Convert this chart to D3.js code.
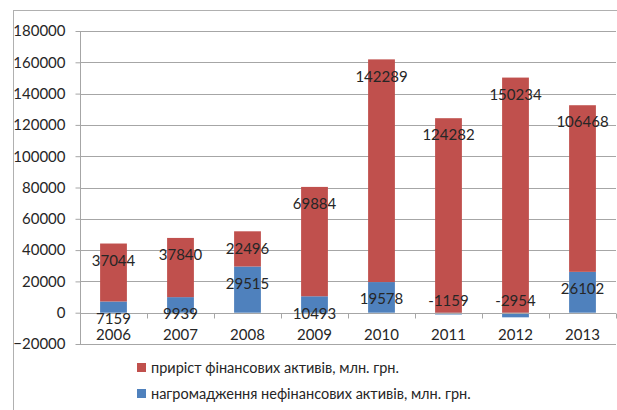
<!DOCTYPE html>
<html>
<head>
<meta charset="utf-8">
<script src="https://cdn.jsdelivr.net/npm/d3@7"></script>
<style>
    body { margin: 0; background: #fff; }
    #svg text { font-family: Lato, "Liberation Sans", sans-serif; fill: #262626; }
    .grid line { stroke: #a6a6a6; stroke-width: 1; }
    .axis path, .axis line { stroke: #a6a6a6; }
    .tick-label { font-size: 15px; }
    .data-label { font-size: 15px; }
    .legend-text { font-size: 14.5px; }
</style>
</head>
<body>
<svg id="svg"></svg>
<script>
const years = ['2006', '2007', '2008', '2009', '2010', '2011', '2012', '2013'];
const financial = [37044, 37840, 22496, 69884, 142289, 124282, 150234, 106468];
const nonFinancial = [7159, 9939, 29515, 10493, 19578, -1159, -2954, 26102];
const yTicks = [-20000, 0, 20000, 40000, 60000, 80000, 100000, 120000, 140000, 160000, 180000];
const seriesNames = ['приріст фінансових активів, млн. грн.', 'нагромадження нефінансових активів, млн. грн.'];
const colors = {financial: '#c0504d', nonFinancial: '#4f81bd'};

const width = 617, height = 410;
const margin = {top: 31, left: 80, right: 1, bottom: 66};

const svg = d3.select('#svg')
    .attr('width', width)
    .attr('height', height);

// chart border (runs off the right and bottom edge)
svg.append('rect')
    .attr('x', 13.5).attr('y', 10.5)
    .attr('width', 640).attr('height', 440)
    .attr('fill', 'none')
    .attr('stroke', '#b0b0b0');

const xScale = d3.scaleBand()
    .domain(years)
    .range([margin.left, width - margin.right])
    .paddingInner(0.6)
    .paddingOuter(0.3);

const yScale = d3.scaleLinear()
    .domain([yTicks[0], yTicks[yTicks.length - 1]])
    .range([height - margin.bottom, margin.top]);

// grid lines (zero line is drawn as the axis)
svg.append('g')
    .attr('class', 'grid')
    .selectAll('line')
    .data(yTicks.filter(d => d !== 0))
    .enter()
    .append('line')
    .attr('x1', margin.left)
    .attr('x2', width - margin.right)
    .attr('y1', d => Math.round(yScale(d)) + 0.5)
    .attr('y2', d => Math.round(yScale(d)) + 0.5);

// stacked data: positives stack on each other, negatives go down from zero
const stacks = years.map((year, i) => {
    const nf = nonFinancial[i], f = financial[i];
    const nfSeg = nf >= 0 ? [0, nf] : [nf, 0];
    const fBase = nf >= 0 ? nf : 0;
    return {
        year: year,
        nf: nf, f: f,
        nfSeg: nfSeg,
        fSeg: [fBase, fBase + f]
    };
});

const bars = svg.append('g');

bars.selectAll('.bar-nf')
    .data(stacks)
    .enter()
    .append('rect')
    .attr('class', 'bar-nf')
    .attr('x', d => xScale(d.year))
    .attr('width', xScale.bandwidth())
    .attr('y', d => yScale(d.nfSeg[1]))
    .attr('height', d => yScale(d.nfSeg[0]) - yScale(d.nfSeg[1]))
    .attr('fill', colors.nonFinancial);

bars.selectAll('.bar-f')
    .data(stacks)
    .enter()
    .append('rect')
    .attr('class', 'bar-f')
    .attr('x', d => xScale(d.year))
    .attr('width', xScale.bandwidth())
    .attr('y', d => yScale(d.fSeg[1]))
    .attr('height', d => yScale(d.fSeg[0]) - yScale(d.fSeg[1]))
    .attr('fill', colors.financial);

// y axis
const yAxis = d3.axisLeft(yScale)
    .tickValues(yTicks)
    .tickSize(5)
    .tickPadding(10)
    .tickFormat(d3.format('d'));

svg.append('g')
    .attr('class', 'axis')
    .attr('transform', 'translate(' + (margin.left + 0.5) + ',0)')
    .call(yAxis)
    .call(g => g.selectAll('text').attr('class', 'tick-label'))
    .call(g => g.select('.domain').attr('d', 'M0,' + yScale(yTicks[yTicks.length - 1]) + 'V' + yScale(yTicks[0])));

// x axis at zero with ticks between categories
const zeroY = Math.round(yScale(0)) + 0.5;
const xAxis = svg.append('g').attr('class', 'axis');
xAxis.append('line')
    .attr('x1', margin.left).attr('x2', width - margin.right)
    .attr('y1', zeroY).attr('y2', zeroY);

const step = xScale.step();
xAxis.selectAll('.xtick')
    .data(d3.range(years.length + 1))
    .enter()
    .append('line')
    .attr('class', 'xtick')
    .attr('x1', i => Math.round(margin.left + i * step) + 0.5)
    .attr('x2', i => Math.round(margin.left + i * step) + 0.5)
    .attr('y1', zeroY)
    .attr('y2', zeroY + 5);

xAxis.selectAll('.year')
    .data(years)
    .enter()
    .append('text')
    .attr('class', 'tick-label')
    .attr('x', d => xScale(d) + xScale.bandwidth() / 2)
    .attr('y', zeroY + 21)
    .attr('dy', '0.35em')
    .attr('text-anchor', 'middle')
    .text(d => d);

// data labels: inside end of each segment
const labels = svg.append('g');
labels.selectAll('.label-f')
    .data(stacks)
    .enter()
    .append('text')
    .attr('class', 'data-label')
    .attr('x', d => xScale(d.year) + xScale.bandwidth() / 2)
    .attr('y', d => yScale(d.fSeg[1]) + 17)
    .attr('dy', '0.35em')
    .attr('text-anchor', 'middle')
    .text(d => d.f);

labels.selectAll('.label-nf')
    .data(stacks)
    .enter()
    .append('text')
    .attr('class', 'data-label')
    .attr('x', d => xScale(d.year) + xScale.bandwidth() / 2)
    .attr('y', d => d.nf >= 0 ? yScale(d.nf) + 17 : yScale(0) - 12)
    .attr('dy', '0.35em')
    .attr('text-anchor', 'middle')
    .text(d => d.nf);

// legend
const legend = svg.append('g')
    .attr('transform', 'translate(137,363)');
const legendItems = legend.selectAll('g')
    .data([colors.financial, colors.nonFinancial])
    .enter()
    .append('g')
    .attr('transform', (_, i) => 'translate(0,' + (i * 26) + ')');
legendItems.append('rect')
    .attr('width', 9).attr('height', 9)
    .attr('fill', d => d);
legendItems.append('text')
    .attr('class', 'legend-text')
    .attr('x', 14)
    .attr('y', 5)
    .attr('dy', '0.35em')
    .text((_, i) => seriesNames[i]);
</script>
</body>
</html>
